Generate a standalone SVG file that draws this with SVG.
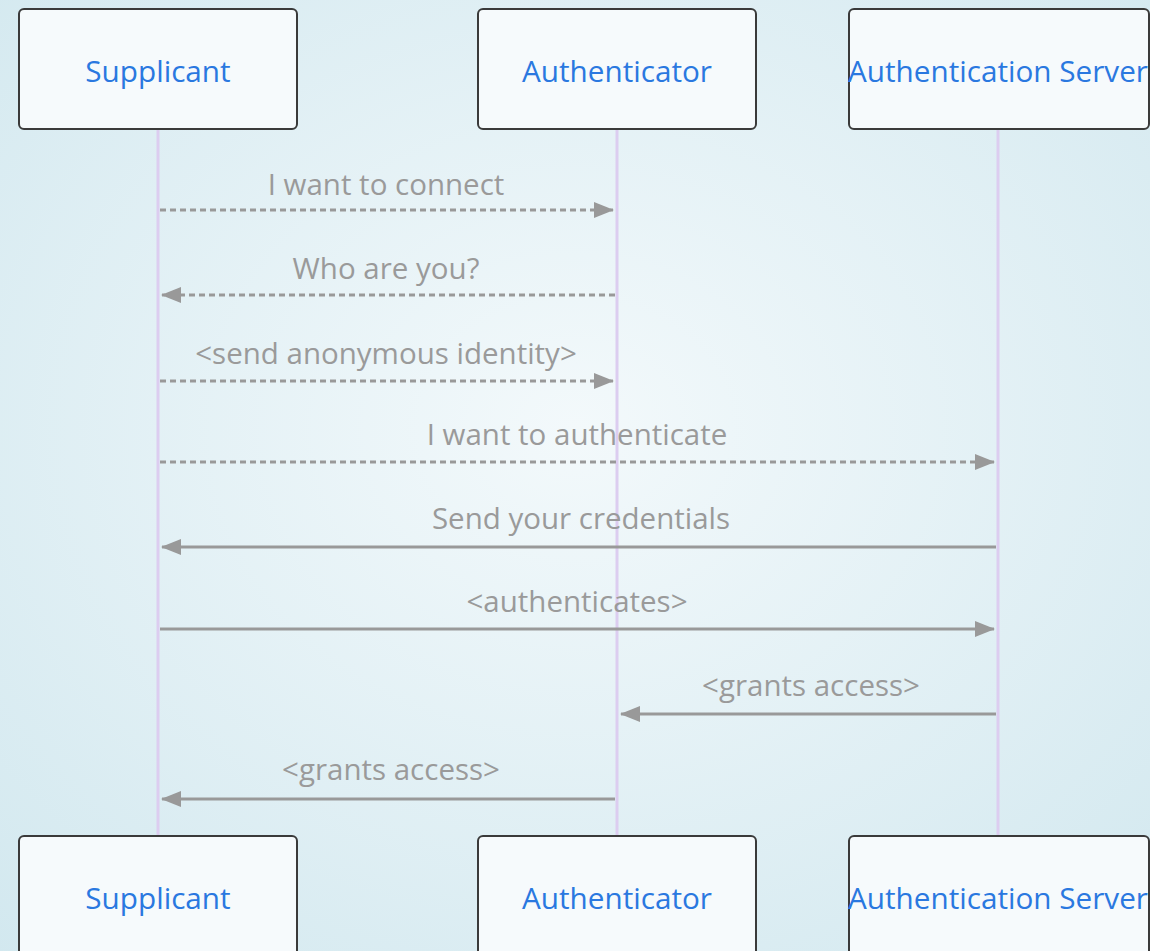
<svg xmlns="http://www.w3.org/2000/svg" width="1150" height="951" viewBox="0 0 1150 951">
<style>
.box{fill:#f6fafc;stroke:#3a3a3a;stroke-width:2}
.actor{font-family:"Open Sans","Noto Sans",sans-serif;font-size:29.7px;fill:#2a78e0;text-anchor:middle;dominant-baseline:central}
.life{stroke:#dccdf0;stroke-width:3}
.msg{stroke:#999;stroke-width:3;fill:none}
.dash{stroke-dasharray:6,4}
.lbl{font-family:"Open Sans","Noto Sans",sans-serif;font-size:29.5px;fill:#9a9a9a;text-anchor:middle}
</style>
<defs>
<radialGradient id="bg" cx="50%" cy="45%" r="75%">
<stop offset="0" stop-color="#f3f9fb"/>
<stop offset="1" stop-color="#d2e8ef"/>
</radialGradient>
<marker id="ah" markerWidth="20" markerHeight="16" refX="19" refY="8" orient="auto" markerUnits="userSpaceOnUse">
<path d="M0,0 L20,8 L0,16 z" fill="#999"/>
</marker>
</defs>
<rect width="1150" height="951" fill="url(#bg)"/>
<g id="lifelines">
<line class="life" x1="158" y1="129" x2="158" y2="836"/>
<line class="life" x1="617" y1="129" x2="617" y2="836"/>
<line class="life" x1="998" y1="129" x2="998" y2="836"/>
</g>
<g id="supplicant-top"><rect class="box" x="19" y="9" width="278" height="120" rx="5"/><text class="actor" x="158" y="70">Supplicant</text></g>
<g id="authenticator-top"><rect class="box" x="478" y="9" width="278" height="120" rx="5"/><text class="actor" x="617" y="70">Authenticator</text></g>
<g id="server-top"><rect class="box" x="849" y="9" width="300" height="120" rx="5"/><text class="actor" x="998" y="70">Authentication Server</text></g>
<g id="supplicant-bottom"><rect class="box" x="19" y="836" width="278" height="120" rx="5"/><text class="actor" x="158" y="897">Supplicant</text></g>
<g id="authenticator-bottom"><rect class="box" x="478" y="836" width="278" height="120" rx="5"/><text class="actor" x="617" y="897">Authenticator</text></g>
<g id="server-bottom"><rect class="box" x="849" y="836" width="300" height="120" rx="5"/><text class="actor" x="998" y="897">Authentication Server</text></g>
<g id="connectors">
<text class="lbl" x="386" y="195">I want to connect</text>
<line class="msg dash" x1="160" y1="210" x2="613" y2="210" marker-end="url(#ah)"/>
<text class="lbl" x="386" y="279">Who are you?</text>
<line class="msg dash" x1="615" y1="295" x2="162" y2="295" marker-end="url(#ah)"/>
<text class="lbl" x="386" y="364">&lt;send anonymous identity&gt;</text>
<line class="msg dash" x1="160" y1="381" x2="613" y2="381" marker-end="url(#ah)"/>
<text class="lbl" x="577" y="445">I want to authenticate</text>
<line class="msg dash" x1="160" y1="462" x2="994" y2="462" marker-end="url(#ah)"/>
<text class="lbl" x="581" y="529">Send your credentials</text>
<line class="msg" x1="996" y1="547" x2="162" y2="547" marker-end="url(#ah)"/>
<text class="lbl" x="577" y="612">&lt;authenticates&gt;</text>
<line class="msg" x1="160" y1="629" x2="994" y2="629" marker-end="url(#ah)"/>
<text class="lbl" x="811" y="696">&lt;grants access&gt;</text>
<line class="msg" x1="996" y1="714" x2="621" y2="714" marker-end="url(#ah)"/>
<text class="lbl" x="391" y="780">&lt;grants access&gt;</text>
<line class="msg" x1="615" y1="799" x2="162" y2="799" marker-end="url(#ah)"/>
</g>
</svg>
